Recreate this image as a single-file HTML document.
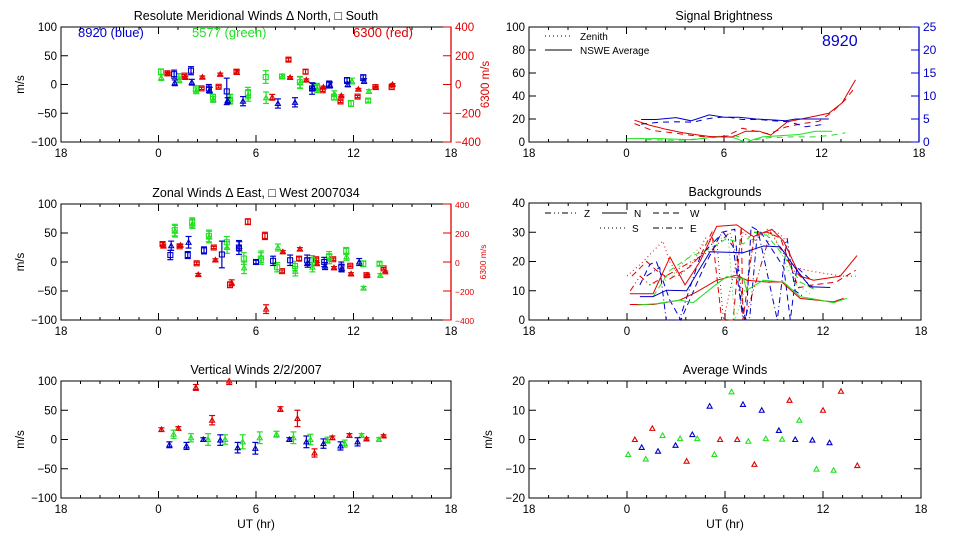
<!DOCTYPE html>
<html><head><meta charset="utf-8">
<style>
html,body{margin:0;padding:0;background:#fff;}
svg{display:block;font-family:"Liberation Sans",sans-serif;font-size:11px;}
</style></head>
<body>
<svg id="c" width="960" height="540" viewBox="0 0 960 540"></svg>
<script>
const BLUE="#0000c8",GREEN="#22e022",RED="#e00000";
// ---- x axis (UT hours, -6 == 18 previous day)
const xTickVals=[-6,0,6,12,18];
const xTickLabels=["18","0","6","12","18"];
// ---- Meridional winds (top-left)
const merBlueX=[0.96,1.0,2.0,2.05,3.1,3.15,4.2,4.25,5.2,7.35,8.4,9.45,9.5,10.5,10.55,11.6,11.65,12.6,12.65];
const merBlueY=[18,3,24,4,-7,-10,-12,-28,-29,-33,-31,-7,-4,0,-1,7,0,12,6];
const merBlueE=[7,5,7,5,7,5,23,5,8,8,8,10,6,6,5,5,4,5,4];
const merBlueS=["s","t","s","t","s","t","s","t","t","t","t","s","t","s","t","s","t","s","t"];
const merGreenX=[0.15,0.17,1.25,1.27,2.3,2.32,3.35,3.37,4.4,4.42,5.5,5.52,6.6,6.62,7.6,7.62,8.7,8.72,9.75,9.77,10.8,10.82,11.85,11.9,12.9,12.95];
const merGreenY=[22,12,14,8,-7,-11,-22,-26,-26,-25,-15,-19,13,-23,14,14,4,3,-4,-8,-22,-16,-33,6,-28,-12];
const merGreenE=[5,5,5,5,5,5,5,5,8,8,10,10,11,10,4,4,10,10,6,6,5,5,5,5,3,3];
const merGreenS=["s","t","s","t","s","t","s","t","s","t","s","t","s","t","s","t","s","t","s","t","s","t","s","t","s","t"];
const merRedX=[0.55,0.57,1.6,1.65,2.65,2.7,3.7,3.8,4.8,4.82,7.0,8.0,8.1,9.05,9.1,10.1,10.15,11.2,11.25,12.25,12.3,13.35,13.37,14.35,14.4];
const merRedY=[78,75,62,49,-27,51,-16,71,89,85,-89,173,49,89,31,-40,-18,-118,-78,-84,-33,-18,-20,-18,0];
const merRedE=[8,8,8,8,8,8,8,8,15,15,20,10,6,15,8,8,6,8,6,8,6,6,6,6,6];
const merRedS=["s","t","s","t","s","t","s","t","s","t","t","s","t","s","t","s","t","s","t","s","t","s","t","s","t"];
// ---- Zonal winds (middle-left)
const zonBlueX=[0.73,0.78,1.8,1.85,2.8,3.9,4.95,4.97,6.0,7.05,8.1,9.15,9.18,10.2,10.25,11.25,11.28,12.35];
const zonBlueY=[12,28,12,34,20,13,25,27,0,2,3,3,-1,0,-7,-8,-11,0];
const zonBlueE=[8,8,6,10,6,23,12,8,3,8,9,9,8,8,6,8,6,6];
const zonBlueS=["s","t","s","t","s","s","s","t","s","s","s","s","t","s","t","s","t","t"];
const zonGreenX=[1.0,1.02,2.07,2.09,3.1,3.12,4.2,4.22,5.25,5.27,6.3,6.32,7.3,7.35,8.4,8.42,9.45,9.47,10.5,10.52,11.55,11.57,12.6,12.62,13.6,13.65];
const zonGreenY=[55,53,68,66,45,43,34,25,6,-10,6,9,-9,25,-7,-16,3,-9,10,5,19,9,-3,-45,-3,-23];
const zonGreenE=[10,10,8,8,10,10,10,10,10,10,10,10,8,6,8,8,8,8,8,8,6,6,5,3,3,3];
const zonGreenS=["s","t","s","t","s","t","s","t","s","t","s","t","s","t","s","t","s","t","s","t","s","t","s","t","s","t"];
const zonRedX=[0.25,0.3,1.3,1.35,2.35,2.45,3.4,3.5,4.4,4.5,5.5,6.55,6.62,7.6,7.65,8.65,8.7,9.7,9.75,10.75,10.8,11.8,11.85,12.8,12.85,13.85,13.95];
const zonRedY=[124,110,108,115,-9,-87,100,14,-157,-143,278,180,-325,-63,70,23,89,19,-12,19,-40,-26,-82,-91,-91,-44,-68];
const zonRedE=[10,8,8,8,8,8,8,8,20,20,20,25,30,8,8,12,10,8,8,8,8,6,8,6,6,6,6];
const zonRedS=["s","t","s","t","s","t","s","t","s","t","s","s","t","s","t","s","t","s","t","s","t","s","t","s","t","s","t"];
// ---- Vertical winds (bottom-left)
const verRedX=[0.18,1.22,2.3,3.3,4.35,7.5,8.55,9.6,10.7,11.75,12.8,13.85];
const verRedY=[17,19,89,33,100,52,36,-23,3,7,1,6];
const verRedE=[3,3,5,8,6,4,14,7,3,3,2,2];
const verBlueX=[0.67,1.72,2.76,3.8,4.87,5.96,8.05,9.1,10.15,11.2,12.25];
const verBlueY=[-9,-11,0,-1,-14,-15,0,-4,-7,-11,-4];
const verBlueE=[5,6,3,9,9,10,3,10,8,7,7];
const verGreenX=[0.93,2.0,3.05,4.1,5.18,6.23,7.26,8.3,9.35,10.4,11.46,12.5,13.57];
const verGreenY=[9,3,0,0,-4,3,9,3,0,-1,-7,7,0];
const verGreenE=[7,7,10,8,12,10,5,10,9,5,6,3,3];
// ---- Average winds (bottom-right)
const avgRedX=[0.48,1.55,3.65,5.7,6.75,7.8,9.95,12.0,13.1,14.1];
const avgRedY=[0,3.8,-7.4,0,0,-8.5,13.4,10,16.5,-8.9];
const avgBlueX=[0.9,1.9,2.97,4.0,5.06,7.1,8.25,9.3,10.3,11.35,12.4];
const avgBlueY=[-2.7,-4,-2,1.7,11.4,12,10,3.1,0,-0.2,-1.1];
const avgGreenX=[0.07,1.15,2.18,3.25,4.3,5.35,6.4,7.43,8.5,9.5,10.55,11.6,12.65];
const avgGreenY=[-5.1,-6.7,1.4,0.3,0.3,-5.1,16.3,-0.6,0.3,0.1,6.6,-10.1,-10.5];
// ---- Signal brightness (top-right); blue on right 0-25 axis
const sigBlueSolidX=[0.9,1.82,3.05,3.97,5.09,6.01,6.93,7.96,8.98,9.8,10.41,11.43,12.45];
const sigBlueSolidY=[4.9,4.9,5.3,4.6,5.9,5.4,5.4,5.0,4.8,4.6,5.0,5.0,5.0];
const sigBlueDashX=[0.9,2.02,3.05,4.07,5.09,6.11,7.13,8.16,8.98,10.0,11.02,12.25];
const sigBlueDashY=[3.9,4.3,4.4,4.3,5.1,5.5,4.9,4.9,4.6,4.4,3.3,3.9];
const sigRedSolidX=[0.49,1.41,2.43,3.46,4.48,5.3,6.52,7.34,8.16,8.88,9.9,11.43,12.45,13.27,14.09];
const sigRedSolidY=[19,14.7,11,8,6,4.4,4.4,9.4,9.4,6,17.6,22,25,34,54];
const sigRedDashX=[0.49,1.6,2.84,3.87,4.89,6.11,7.13,7.95,8.77,9.8,10.82,11.84,12.66,13.48,14.09];
const sigRedDashY=[16,10,8,6,4.4,5,12,9.4,7,13,16,18,26,37,48];
const sigGreenSolidX=[0,2.02,4.07,5.7,6.52,7.34,8.37,9.39,10.61,11.64,12.66];
const sigGreenSolidY=[3,3,2,5,4,0,4.4,5.5,6.5,9.4,9.4];
const sigGreenDashX=[1.19,3.25,5.3,6.52,7.73,8.77,10.2,11.64,12.66,13.48];
const sigGreenDashY=[2,1.5,3.8,6,1.5,3.8,4.4,4.4,6,8];
// ---- Backgrounds (middle-right)
const bgRedNX=[0.17,1.6,2.63,3.55,4.47,5.49,6.72,7.74,8.87,9.58,10.6,11.42,13.06,14.08];
const bgRedNY=[9,9,21.5,12,20,32,32.5,28.5,31,27,15,13.6,15,22];
const bgRedLowX=[0.17,1.6,3.24,4.26,5.49,6.72,7.33,8.56,9.48,10.6,11.62,12.64,13.26];
const bgRedLowY=[5.3,5.3,6.8,9.6,13.6,15.3,13.6,13,13,7.4,6.8,6.2,7.4];
const bgBlueNX=[0.79,1.6,2.42,3.65,5.08,7.11,8.35,9.38,10.4,11.21,12.44];
const bgBlueNY=[8,8,10.2,10,23.3,23,25.3,25,17,11.4,11.1];
const bgGreenNX=[0.6,1.8,3.24,4.06,5.28,6.1,7.13,7.33,8.35,9.58,10.6,11.83,12.64,13.46];
const bgGreenNY=[5.1,5.6,6.8,5.9,11.4,14.8,14.2,10.2,13.6,13,8,6.8,5.9,7.4];
const bgGreenWX=[1.6,2.63,3.85,5.08,6.1,7.13,7.74,8.56,9.58,10.6,11.62];
const bgGreenWY=[8,17,21.6,24.4,27.8,26,30,29,22,13,10];
const bgBlueWX=[0.79,1.4,1.8,2.6,3.3,4.7,5.8,6.6,7.0,7.3,7.6,8.2,9.6,10.0,10.4,11.2];
const bgBlueWY=[12,19,20,7,0,18,30,31,5,0,32,30,18,0,18,14];
const bgBlueEX=[1.2,2.0,2.4,3.2,4.5,5.9,6.5,7.1,7.5,8.0,9.2,9.8,10.3,10.8];
const bgBlueEY=[15,18,0,0,22,30,25,0,0,31,0,28,10,8];
const bgRedSX=[0.0,1.0,2.2,2.6,3.2,4.1,4.8,5.5,5.9,7.1,7.8,8.6,9.2,9.6,10.3,11.0,12.0,13.2,14.0];
const bgRedSY=[15,20,27,20,15,20,28,27,0,30,27,31,30,28,18,17,16,15,15];
const bgRedWX=[0.3,1.2,1.8,2.6,3.8,4.5,5.2,5.8,6.5,7.0,7.1,7.8,8.6,9.4,10.5,11.4,12.8,14.0];
const bgRedWY=[15,20,17,14,18,22,30,0,0,32,0,30,30,28,11,12,13,17];
const bgGreenSX=[1.4,2.6,3.5,4.5,5.4,6.2,6.6,7.2,7.9,9.0,9.8,10.4,11.2];
const bgGreenSY=[12,14,20,25,28,28,0,10,30,29,18,12,9];
const bgRedZX=[0.2,0.8,1.4,3.0,5.2,6.3,6.8,7.2,8.8,10.2,11.4];
const bgRedZY=[10,15,12,17,24,30,20,0,30,17,11];

const svg=document.getElementById('c');
const NS="http://www.w3.org/2000/svg";
function mk(tag,attrs,parent){const e=document.createElementNS(NS,tag);for(const k in attrs){if(k==='font-size')e.style.fontSize=attrs[k];else e.setAttribute(k,attrs[k]);}(parent||svg).appendChild(e);return e;}
function txt(x,y,s,attrs,parent){const t=mk('text',Object.assign({x:x,y:y},attrs||{}),parent);t.textContent=s;return t;}

function panel(name,x0,x1,y0,y1,ymin,ymax,yticks,ylabels,opts){
  const g=mk('g',{});
  
  
  const sx=h=>x0+(h+6)/24*(x1-x0);
  const sy=v=>y1-(v-ymin)/(ymax-ymin)*(y1-y0);
  mk('rect',{x:x0,y:y0,width:x1-x0,height:y1-y0,fill:'none',stroke:'#000','stroke-width':1},g);
  for(let i=0;i<xTickVals.length;i++){
    const X=sx(xTickVals[i]);
    mk('line',{x1:X,y1:y1,x2:X,y2:y1-7,stroke:'#000'},g);
    mk('line',{x1:X,y1:y0,x2:X,y2:y0+7,stroke:'#000'},g);
    const t=txt(X,y1+15,xTickLabels[i],{'text-anchor':'middle','font-size':'11.5px'},g);
    
    
  }
  for(let h=-6;h<18;h+=1.2){
    if(Math.abs(h/6-Math.round(h/6))<0.01)continue;
    const X=sx(h);
    mk('line',{x1:X,y1:y1,x2:X,y2:y1-3,stroke:'#000'},g);
    mk('line',{x1:X,y1:y0,x2:X,y2:y0+3,stroke:'#000'},g);
  }
  for(let i=0;i<yticks.length;i++){
    const Y=sy(yticks[i]);
    mk('line',{x1:x0,y1:Y,x2:x0+7,y2:Y,stroke:'#000'},g);
    if(!opts.noRightTicks)mk('line',{x1:x1,y1:Y,x2:x1-7,y2:Y,stroke:'#000'},g);
    const t=txt(x0-4,Y+4,ylabels[i],{'text-anchor':'end','font-size':'11.5px'},g);
    
    
  }
  const tt=txt((x0+x1)/2,y0-7,opts.title,{'text-anchor':'middle','font-size':'12.5px'},g);
  
  
  if(opts.ylab){
    const yl=txt(0,0,opts.ylab,{'text-anchor':'middle','font-size':'11.5px',transform:`translate(${x0-37},${(y0+y1)/2}) rotate(-90)`},g);
    
    
  }
  if(opts.xlab){
    const xl=txt((x0+x1)/2,y1+30,opts.xlab,{'text-anchor':'middle','font-size':'12px'},g);
    
    
  }
  return {g,sx,sy,x0,x1,y0,y1};
}
function rightAxis(p,vmin,vmax,ticks,labels,color,title,fs){
  const g=mk('g',{},p.g);
  
  
  const sy=v=>p.y1-(v-vmin)/(vmax-vmin)*(p.y1-p.y0);
  mk('line',{x1:p.x1,y1:p.y0,x2:p.x1,y2:p.y1,stroke:color,'stroke-width':1.3},g);
  for(let i=0;i<ticks.length;i++){
    const Y=sy(ticks[i]);
    mk('line',{x1:p.x1-8,y1:Y,x2:p.x1,y2:Y,stroke:color},g);
    const t=txt(p.x1+4,Y+4,labels[i],{fill:color,'font-size':fs+'px'},g);
    
    
  }
  if(title){
    const t=txt(0,0,title,{fill:color,'text-anchor':'middle','font-size':'11.5px',transform:`translate(${p.x1+38},${(p.y0+p.y1)/2}) rotate(-90)`},g);
    
    
  }
  return sy;
}
function marker(g,X,Y,shape,color){
  if(shape==='s')mk('rect',{x:X-2.5,y:Y-2.5,width:5,height:5,fill:'none',stroke:color,'stroke-width':1.1},g);
  else mk('path',{d:`M${X-2.5},${Y+2}L${X+2.5},${Y+2}L${X},${Y-2.5}Z`,fill:'none',stroke:color,'stroke-width':1.1},g);
}
function errSeries(p,name,xs,ys,es,ss,color,syFn){
  const g=mk('g',{},p.g);
  
  
  const sy=syFn||p.sy;
  for(let i=0;i<xs.length;i++){
    const X=p.sx(xs[i]);
    const clip=v=>Math.max(p.y0,Math.min(p.y1,v));
    const Y=clip(sy(ys[i])),Yt=clip(sy(ys[i]+es[i])),Yb=clip(sy(ys[i]-es[i]));
    const pg=mk('g',{},g);
    
    
    mk('line',{x1:X,y1:Yt,x2:X,y2:Yb,stroke:color,'stroke-width':1.2},pg);
    mk('line',{x1:X-3,y1:Yt,x2:X+3,y2:Yt,stroke:color,'stroke-width':1.2},pg);
    mk('line',{x1:X-3,y1:Yb,x2:X+3,y2:Yb,stroke:color,'stroke-width':1.2},pg);
    marker(pg,X,Y,ss?ss[i]:'t',color);
  }
}
function ptSeries(p,name,xs,ys,color){
  const g=mk('g',{},p.g);
  
  
  for(let i=0;i<xs.length;i++){
    const m=mk('g',{},g);
    
    
    marker(m,p.sx(xs[i]),p.sy(ys[i]),'t',color);
  }
}
function lineSeries(p,name,xs,ys,color,dash,syFn){
  const sy=syFn||p.sy;
  let d='';
  for(let i=0;i<xs.length;i++)d+=(i?'L':'M')+p.sx(xs[i]).toFixed(1)+','+Math.max(p.y0,Math.min(p.y1,sy(ys[i]))).toFixed(1);
  const l=mk('path',{d:d,fill:'none',stroke:color,'stroke-width':1,'stroke-dasharray':dash||'none'},p.g);
  
  
}

// ===== Top-left: meridional
const p1=panel('meridional-winds-panel',61,451,27,142,-100,100,[100,50,0,-50,-100],["100","50","0","\u221250","\u2212100"],{title:"Resolute Meridional Winds \u0394 North, \u25A1 South",ylab:"m/s",noRightTicks:true});
const r1=rightAxis(p1,-400,400,[400,200,0,-200,-400],["400","200","0","\u2212200","\u2212400"],RED,"6300 m/s",11.5);
let t;
t=txt(78,37,"8920 (blue)",{fill:BLUE,'font-size':'13px'},p1.g);
t=txt(192,37,"5577 (green)",{fill:GREEN,'font-size':'13px'},p1.g);
t=txt(353,37,"6300 (red)",{fill:RED,'font-size':'13px'},p1.g);
errSeries(p1,'meridional-red',merRedX,merRedY,merRedE,merRedS,RED,r1);
errSeries(p1,'meridional-green',merGreenX,merGreenY,merGreenE,merGreenS,GREEN);
errSeries(p1,'meridional-blue',merBlueX,merBlueY,merBlueE,merBlueS,BLUE);

// ===== Middle-left: zonal
const p2=panel('zonal-winds-panel',61,451,204,320,-100,100,[100,50,0,-50,-100],["100","50","0","\u221250","\u2212100"],{title:"Zonal Winds \u0394 East, \u25A1 West 2007034",ylab:"m/s",noRightTicks:true});
const r2=rightAxis(p2,-400,400,[400,200,0,-200,-400],["400","200","0","\u2212200","\u2212400"],RED,null,8.5);
t=txt(0,0,"6300 m/s",{fill:RED,'text-anchor':'middle','font-size':'8.5px',transform:`translate(486,262) rotate(-90)`},p2.g);
errSeries(p2,'zonal-red',zonRedX,zonRedY,zonRedE,zonRedS,RED,r2);
errSeries(p2,'zonal-green',zonGreenX,zonGreenY,zonGreenE,zonGreenS,GREEN);
errSeries(p2,'zonal-blue',zonBlueX,zonBlueY,zonBlueE,zonBlueS,BLUE);

// ===== Bottom-left: vertical
const p3=panel('vertical-winds-panel',61,451,381,498,-100,100,[100,50,0,-50,-100],["100","50","0","\u221250","\u2212100"],{title:"Vertical Winds 2/2/2007",ylab:"m/s",xlab:"UT (hr)"});
errSeries(p3,'vertical-red',verRedX,verRedY,verRedE,null,RED);
errSeries(p3,'vertical-green',verGreenX,verGreenY,verGreenE,null,GREEN);
errSeries(p3,'vertical-blue',verBlueX,verBlueY,verBlueE,null,BLUE);

// ===== Top-right: signal brightness
const p4=panel('signal-brightness-panel',529,919,27,142,0,100,[100,80,60,40,20,0],["100","80","60","40","20","0"],{title:"Signal Brightness",noRightTicks:true});
const r4=rightAxis(p4,0,25,[25,20,15,10,5,0],["25","20","15","10","5","0"],BLUE,null,12);
mk('line',{x1:545,y1:36,x2:572,y2:36,stroke:'#000','stroke-dasharray':'1,3'},p4.g);
t=txt(580,40,"Zenith",{'font-size':'10px'},p4.g);
mk('line',{x1:545,y1:50,x2:572,y2:50,stroke:'#000'},p4.g);
t=txt(580,54,"NSWE Average",{'font-size':'10px'},p4.g);
t=txt(822,46,"8920",{fill:BLUE,'font-size':'16px'},p4.g);
lineSeries(p4,'sig-green-dash',sigGreenDashX,sigGreenDashY,GREEN,'6,5');
lineSeries(p4,'sig-green-solid',sigGreenSolidX,sigGreenSolidY,GREEN);
lineSeries(p4,'sig-red-dash',sigRedDashX,sigRedDashY,RED,'6,5');
lineSeries(p4,'sig-red-solid',sigRedSolidX,sigRedSolidY,RED);
lineSeries(p4,'sig-blue-dash',sigBlueDashX,sigBlueDashY,BLUE,'6,5',r4);
lineSeries(p4,'sig-blue-solid',sigBlueSolidX,sigBlueSolidY,BLUE,null,r4);

// ===== Middle-right: backgrounds
const p5=panel('backgrounds-panel',529,921,203,320,0,40,[40,30,20,10,0],["40","30","20","10","0"],{title:"Backgrounds"});
const legs=[[545,213,577,'6,3,1,3,1,3',"Z"],[602,213,627,'none',"N"],[653,213,683,'6,4',"W"],[600,228,625,'1,3',"S"],[653,228,683,'6,3,1,3',"E"]];
for(const L of legs){
  mk('line',{x1:L[0],y1:L[1],x2:L[2],y2:L[1],stroke:'#000','stroke-dasharray':L[3]},p5.g);
  t=txt(L[2]+7,L[1]+4,L[4],{'font-size':'10px'},p5.g);
}
lineSeries(p5,'bg-red-z',bgRedZX,bgRedZY,RED,'6,3,1,3,1,3');
lineSeries(p5,'bg-red-s',bgRedSX,bgRedSY,RED,'1,3');
lineSeries(p5,'bg-red-w',bgRedWX,bgRedWY,RED,'6,4');
lineSeries(p5,'bg-green-s',bgGreenSX,bgGreenSY,GREEN,'1,3');
lineSeries(p5,'bg-green-w',bgGreenWX,bgGreenWY,GREEN,'6,4');
lineSeries(p5,'bg-blue-w',bgBlueWX,bgBlueWY,BLUE,'6,4');
lineSeries(p5,'bg-blue-e',bgBlueEX,bgBlueEY,BLUE,'6,3,1,3');
lineSeries(p5,'bg-red-n',bgRedNX,bgRedNY,RED);
lineSeries(p5,'bg-red-low',bgRedLowX,bgRedLowY,RED);
lineSeries(p5,'bg-green-n',bgGreenNX,bgGreenNY,GREEN);
lineSeries(p5,'bg-blue-n',bgBlueNX,bgBlueNY,BLUE);

// ===== Bottom-right: average winds
const p6=panel('average-winds-panel',529,921,381,498,-20,20,[20,10,0,-10,-20],["20","10","0","\u221210","\u221220"],{title:"Average Winds",ylab:"m/s",xlab:"UT (hr)"});
ptSeries(p6,'avg-red',avgRedX,avgRedY,RED);
ptSeries(p6,'avg-green',avgGreenX,avgGreenY,GREEN);
ptSeries(p6,'avg-blue',avgBlueX,avgBlueY,BLUE);
</script>
</body></html>
